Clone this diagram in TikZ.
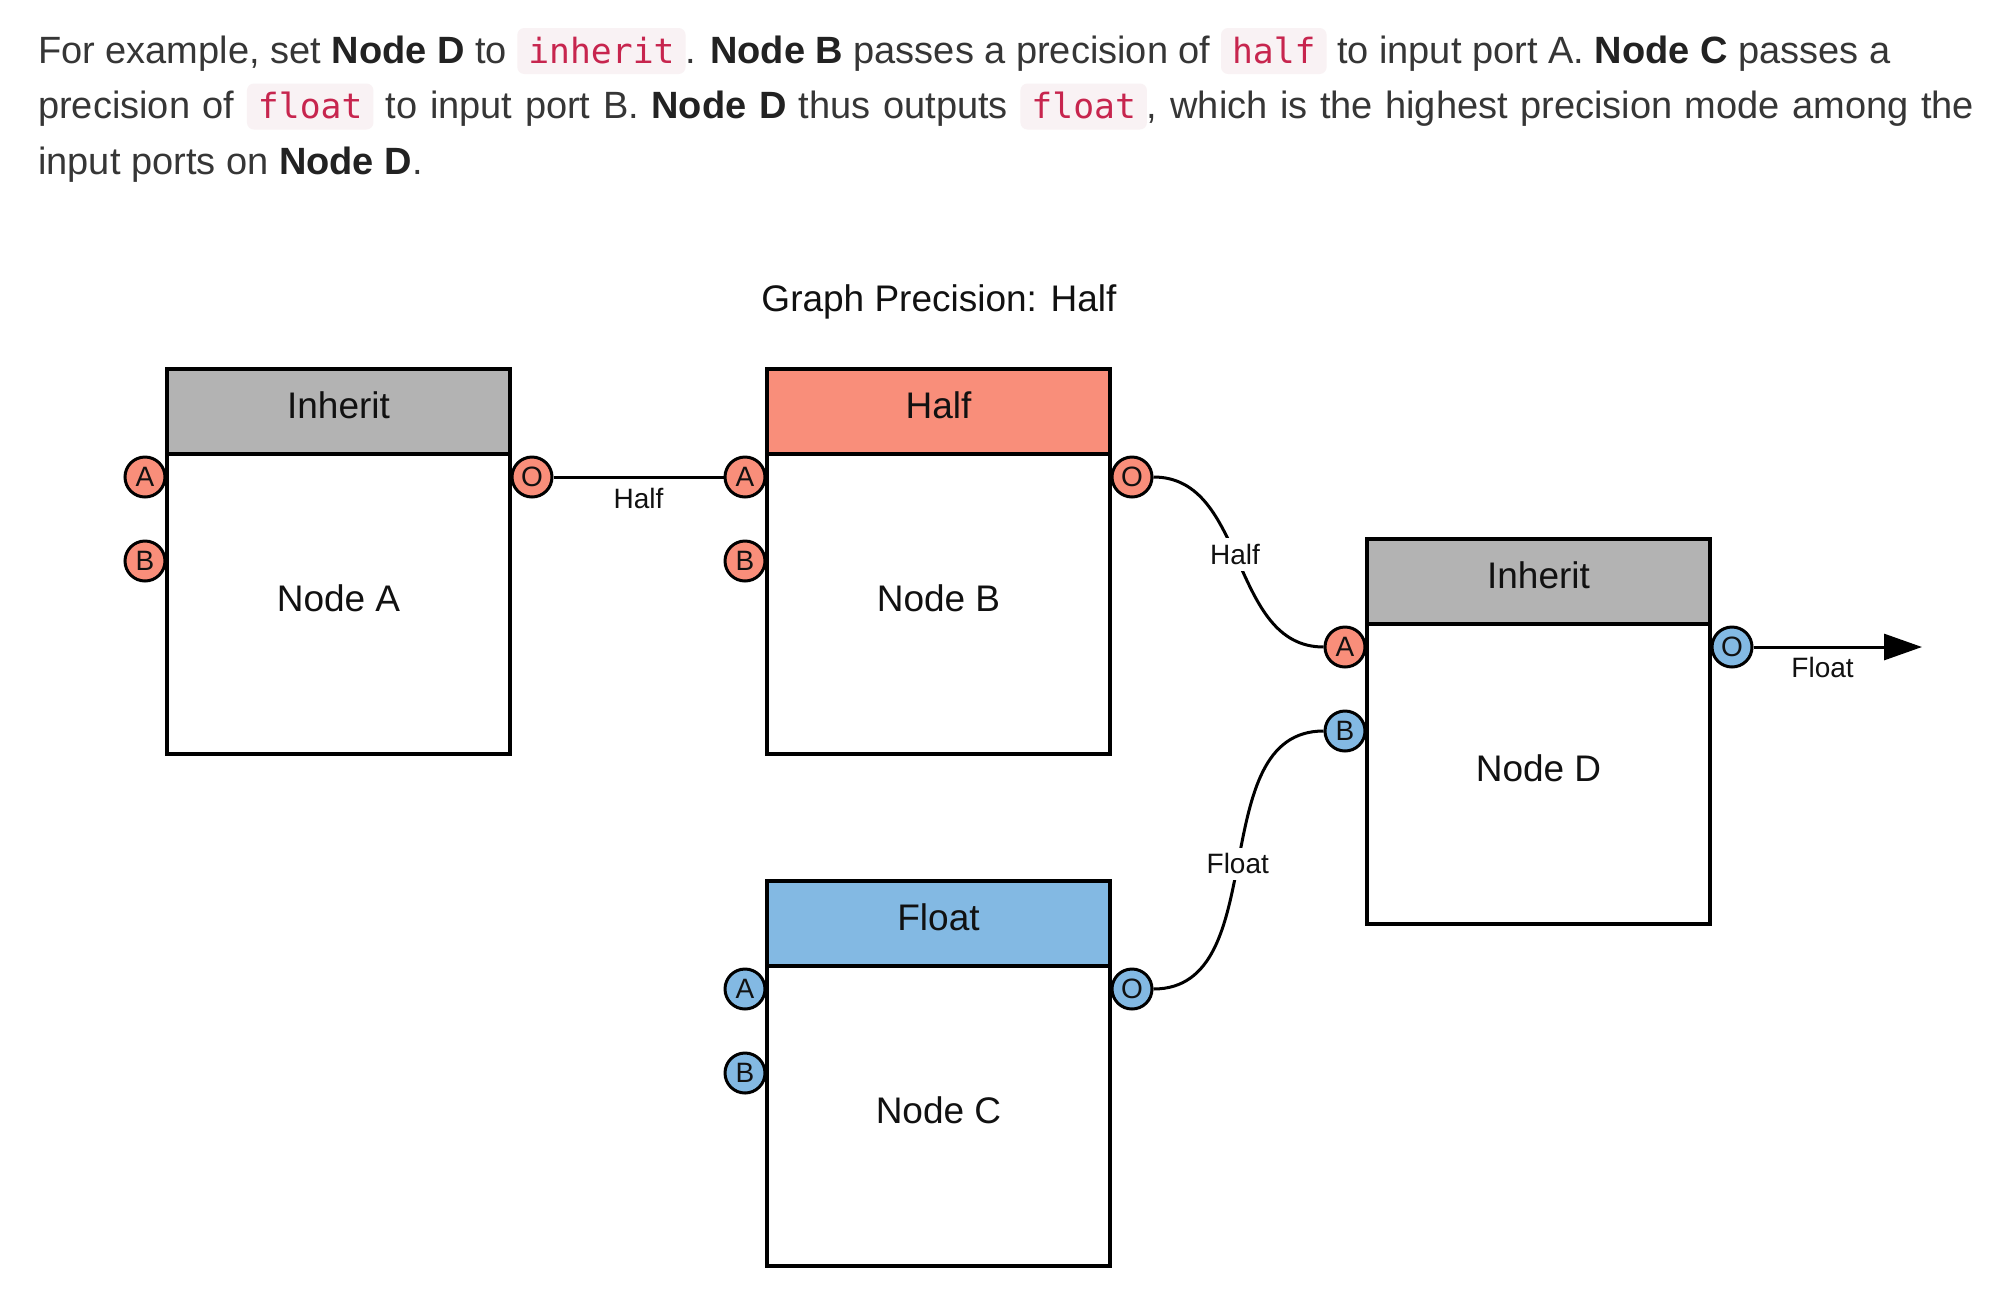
\documentclass[tikz,border=0pt]{standalone}
\usepackage{fontspec}
\setmainfont{Liberation Sans}
\newfontfamily\codefont{DejaVu Sans Mono}
\usetikzlibrary{arrows.meta}
\definecolor{txt}{HTML}{363636}
\definecolor{boldtxt}{HTML}{222222}
\definecolor{codefg}{HTML}{C7254E}
\definecolor{codebg}{HTML}{F9F2F4}
\definecolor{hgrey}{HTML}{B3B3B3}
\definecolor{hred}{HTML}{F98E7A}
\definecolor{hblue}{HTML}{83B9E3}
\definecolor{ink}{HTML}{111111}
\newcommand{\mycode}[1]{\tikz[baseline=(cb.base)]\node[fill=codebg, draw=none, rounded corners=7pt, anchor=center, inner xsep=11pt, inner ysep=0pt, outer sep=0pt, text height=35pt, text depth=11pt, text=codefg, font={\codefont\fontsize{34.7}{40}\selectfont}] (cb) {#1};}
\newcommand{\bt}[1]{\textbf{\color{boldtxt}#1}}
\begin{document}
\begin{tikzpicture}[x=1pt,y=-1pt,
  para/.style={anchor=base west, inner sep=0pt, text=txt, font=\fontsize{38}{46}\selectfont},
  head/.style={draw, line width=4pt, minimum width=343pt, minimum height=85pt, inner sep=0pt, outer sep=0pt, anchor=north west},
  body/.style={draw, line width=4pt, fill=white, minimum width=343pt, minimum height=300pt, inner sep=0pt, outer sep=0pt, anchor=north west},
  blabel/.style={font=\fontsize{37}{44}\selectfont, inner sep=0pt, text=ink},
  port/.style={circle, draw, line width=3pt, minimum size=40pt, inner sep=0pt, text=ink, font=\fontsize{28}{32}\selectfont},
  conn/.style={line width=3pt},
  elabel/.style={font=\fontsize{28}{32}\selectfont, inner sep=3pt, text=ink},
]
\useasboundingbox[fill=white] (0,0) rectangle (2000,1294);

% paragraph
\node[para] (l1) at (38,63) {\makebox[1852pt][s]{For example, set \bt{Node D} to \mycode{inherit}. \bt{Node B} passes a precision of \mycode{half} to input port A. \bt{Node C} passes a}};
\node[para] (l2) at (38,118.5) {\makebox[1936pt][s]{precision of \mycode{float} to input port B. \bt{Node D} thus outputs \mycode{float}, which is the highest precision mode among the}};
\node[para] (l3) at (38,174) {input ports on \bt{Node D}.};

% title
\node[blabel] (title) at (939,302) {Graph Precision: Half};

% Node A
\node[head, fill=hgrey] (ahead) at (167,369) {};
\node[body] (abody) at (167,454) {};
\node[blabel] at ([yshift=6pt]ahead.center) {Inherit};
\node[blabel] at ([yshift=6pt]abody.center) {Node A};
% Node B
\node[head, fill=hred] (bhead) at (767,369) {};
\node[body] (bbody) at (767,454) {};
\node[blabel] at ([yshift=6pt]bhead.center) {Half};
\node[blabel] at ([yshift=6pt]bbody.center) {Node B};
% Node D
\node[head, fill=hgrey] (dhead) at (1367,539) {};
\node[body] (dbody) at (1367,624) {};
\node[blabel] at ([yshift=6pt]dhead.center) {Inherit};
\node[blabel] at ([yshift=6pt]dbody.center) {Node D};
% Node C
\node[head, fill=hblue] (chead) at (767,881) {};
\node[body] (cbody) at (767,966) {};
\node[blabel] at ([yshift=6pt]chead.center) {Float};
\node[blabel] at ([yshift=6pt]cbody.center) {Node C};

% ports
\node[port, fill=hred] (aA) at (145,477) {A};
\node[port, fill=hred] (aB) at (145,561) {B};
\node[port, fill=hred] (aO) at (532,477) {O};
\node[port, fill=hred] (bA) at (745,477) {A};
\node[port, fill=hred] (bB) at (745,561) {B};
\node[port, fill=hred] (bO) at (1132,477) {O};
\node[port, fill=hred] (dA) at (1345,647) {A};
\node[port, fill=hblue] (dB) at (1345,731) {B};
\node[port, fill=hblue] (dO) at (1732,647) {O};
\node[port, fill=hblue] (cA) at (745,989) {A};
\node[port, fill=hblue] (cB) at (745,1073) {B};
\node[port, fill=hblue] (cO) at (1132,989) {O};

% connectors
\draw[conn] (aO) -- node[elabel, pos=0.5, yshift=-21pt] {Half} (bA);
\draw[conn] (bO.east) to[out=0, in=180] node[elabel, fill=white, inner sep=6pt, pos=0.47] {Half} (dA.west);
\draw[conn] (cO.east) to[out=0, in=180] node[elabel, fill=white, inner sep=6pt, pos=0.49] {Float} (dB.west);
\coordinate (outend) at (1922,647);
\draw[conn, -{Triangle[length=38pt, width=26pt]}] (dO) -- node[elabel, pos=0.41, yshift=-20pt] {Float} (outend);
\end{tikzpicture}
\end{document}
